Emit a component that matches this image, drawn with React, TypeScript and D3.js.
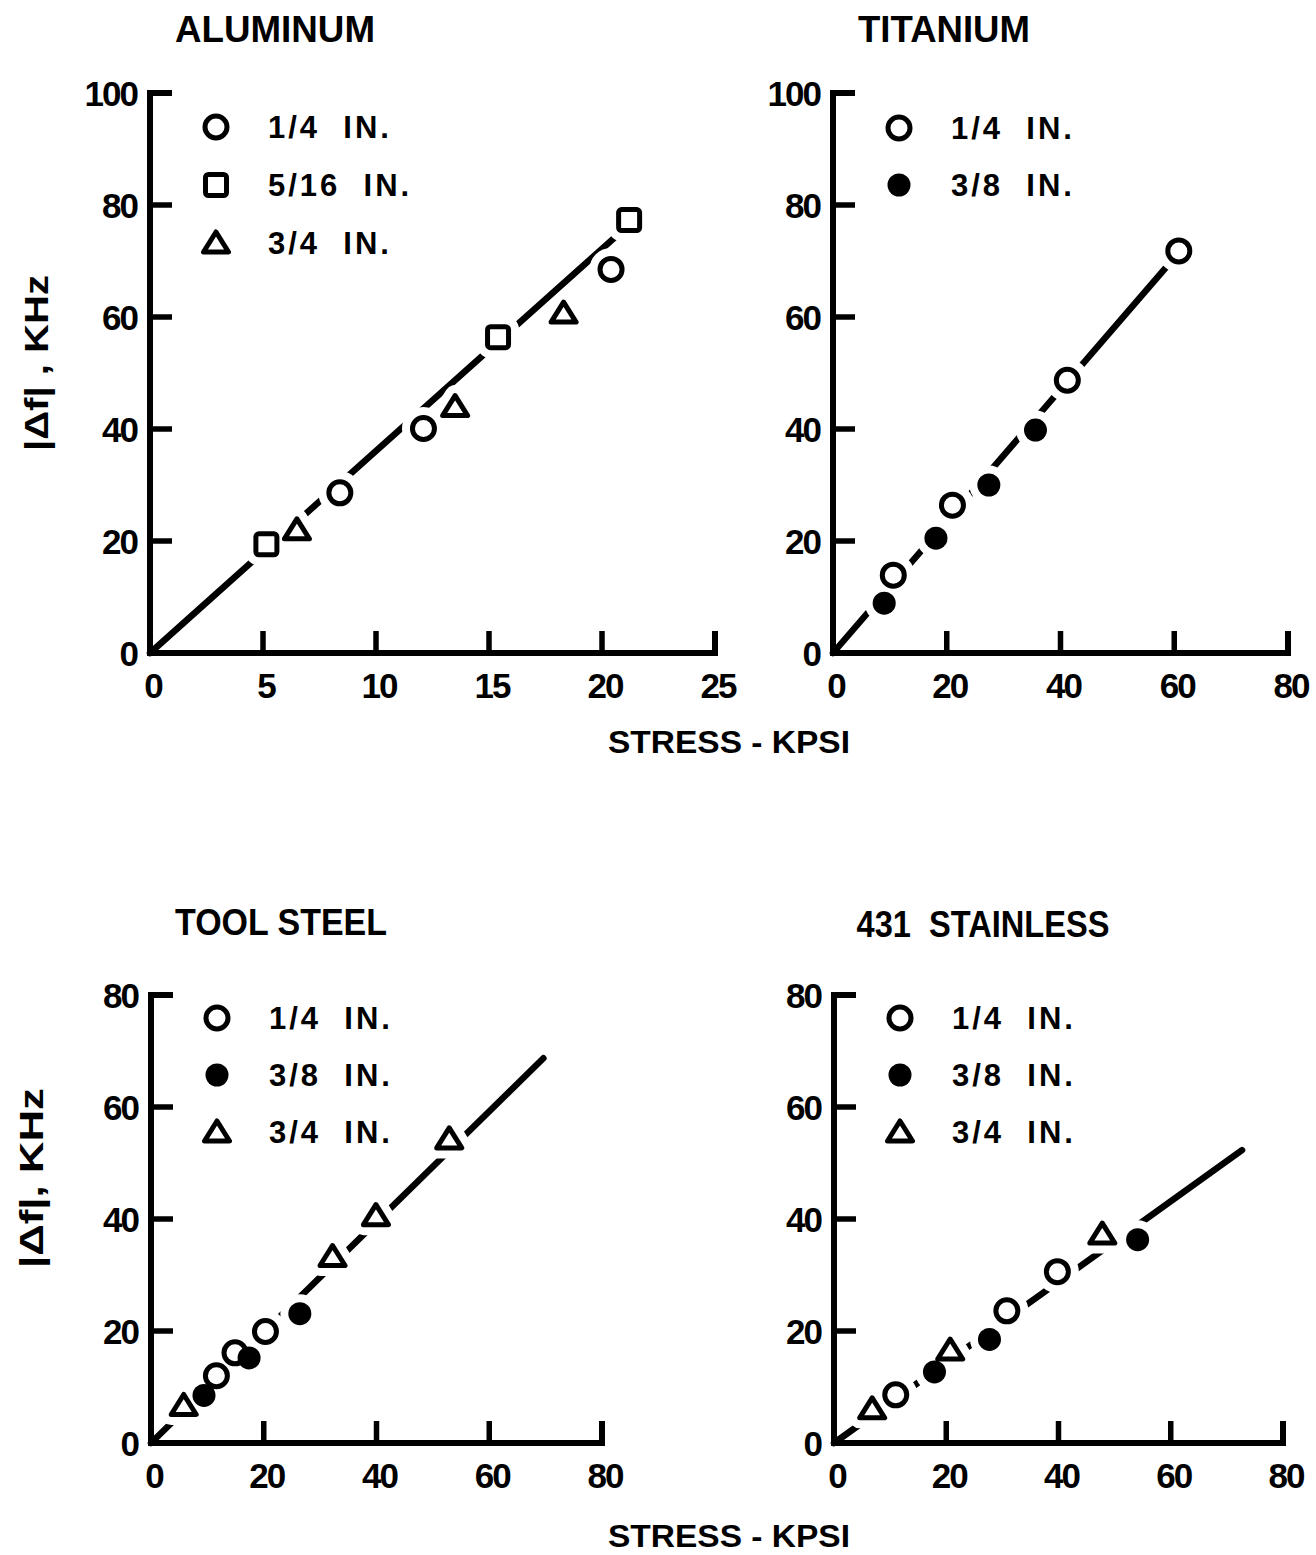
import React from 'react';
import * as d3 from 'd3';

type Pt = [number, number];
type Shape = 'circle' | 'disc' | 'square' | 'triangle';

// ---- ALUMINUM (stress kpsi, |Δf| kHz) ----
const alQuarterIn: Pt[] = [[8.4, 28.6], [12.1, 40.1], [20.4, 68.5]];
const alFiveSixteenthIn: Pt[] = [[5.15, 19.4], [15.4, 56.4], [21.2, 77.3]];
const alThreeQuarterIn: Pt[] = [[6.5, 22.0], [13.5, 44.0], [18.3, 60.7]];
const alFit: Pt[] = [[0, 0], [21.2, 76.5]];

// ---- TITANIUM ----
const tiQuarterIn: Pt[] = [[10.6, 13.9], [21.0, 26.4], [41.2, 48.7], [60.8, 71.8]];
const tiThreeEighthIn: Pt[] = [[9.0, 8.9], [18.1, 20.5], [27.4, 30.0], [35.6, 39.8]];
const tiFit: Pt[] = [[0, 0], [60.8, 71.5]];

// ---- TOOL STEEL ----
const tsQuarterIn: Pt[] = [[11.6, 12.0], [14.9, 16.1], [20.3, 19.9]];
const tsThreeEighthIn: Pt[] = [[9.4, 8.5], [17.4, 15.2], [26.4, 23.1]];
const tsThreeQuarterIn: Pt[] = [[5.8, 6.7], [32.2, 33.3], [39.9, 40.6], [52.9, 54.3]];
const tsFit: Pt[] = [[0, 0], [69.6, 68.7]];

// ---- 431 STAINLESS ----
const ssQuarterIn: Pt[] = [[11.0, 8.6], [30.8, 23.6], [39.8, 30.6]];
const ssThreeEighthIn: Pt[] = [[17.9, 12.7], [27.7, 18.5], [54.1, 36.3]];
const ssThreeQuarterIn: Pt[] = [[6.8, 6.1], [20.7, 16.6], [47.8, 37.3]];
const ssFit: Pt[] = [[0, 0], [72.7, 52.3]];

// ---- ticks ----
const alStressTicks = [0, 5, 10, 15, 20, 25];
const stressTicks80 = [0, 20, 40, 60, 80];
const freqTicks100 = [0, 20, 40, 60, 80, 100];
const freqTicks80 = [0, 20, 40, 60, 80];

const FONT = "'Liberation Sans', Arial, sans-serif";

interface Series { label: string; shape: Shape; data: Pt[] }
interface Panel {
  title: string;
  titleX: number; titleY: number; titleLen: number;
  x0: number; x1: number; yTop: number; yBottom: number;
  xDomain: [number, number]; yDomain: [number, number];
  xTicks: number[]; yTicks: number[];
  series: Series[]; fit: Pt[];
  legendTop: number; legendStep: number;
}

const panels: Panel[] = [
  {
    title: 'ALUMINUM', titleX: 275, titleY: 42, titleLen: 200,
    x0: 150, x1: 715, yTop: 93, yBottom: 653,
    xDomain: [0, 25], yDomain: [0, 100], xTicks: alStressTicks, yTicks: freqTicks100,
    series: [
      { label: '1/4  IN.', shape: 'circle', data: alQuarterIn },
      { label: '5/16  IN.', shape: 'square', data: alFiveSixteenthIn },
      { label: '3/4  IN.', shape: 'triangle', data: alThreeQuarterIn },
    ],
    fit: alFit, legendTop: 127, legendStep: 58,
  },
  {
    title: 'TITANIUM', titleX: 944, titleY: 42, titleLen: 172,
    x0: 833, x1: 1288, yTop: 93, yBottom: 653,
    xDomain: [0, 80], yDomain: [0, 100], xTicks: stressTicks80, yTicks: freqTicks100,
    series: [
      { label: '1/4  IN.', shape: 'circle', data: tiQuarterIn },
      { label: '3/8  IN.', shape: 'disc', data: tiThreeEighthIn },
    ],
    fit: tiFit, legendTop: 128, legendStep: 57,
  },
  {
    title: 'TOOL STEEL', titleX: 281, titleY: 935, titleLen: 212,
    x0: 151, x1: 602, yTop: 995, yBottom: 1443,
    xDomain: [0, 80], yDomain: [0, 80], xTicks: stressTicks80, yTicks: freqTicks80,
    series: [
      { label: '1/4  IN.', shape: 'circle', data: tsQuarterIn },
      { label: '3/8  IN.', shape: 'disc', data: tsThreeEighthIn },
      { label: '3/4  IN.', shape: 'triangle', data: tsThreeQuarterIn },
    ],
    fit: tsFit, legendTop: 1018, legendStep: 57,
  },
  {
    title: '431  STAINLESS', titleX: 983, titleY: 937, titleLen: 253,
    x0: 834, x1: 1283, yTop: 995, yBottom: 1443,
    xDomain: [0, 80], yDomain: [0, 80], xTicks: stressTicks80, yTicks: freqTicks80,
    series: [
      { label: '1/4  IN.', shape: 'circle', data: ssQuarterIn },
      { label: '3/8  IN.', shape: 'disc', data: ssThreeEighthIn },
      { label: '3/4  IN.', shape: 'triangle', data: ssThreeQuarterIn },
    ],
    fit: ssFit, legendTop: 1018, legendStep: 57,
  },
];

const MARK_SW = 5;
const HALO = 8;

function Marker({ shape, x, y, halo }: { shape: Shape; x: number; y: number; halo?: boolean }) {
  const stroke = halo ? '#fff' : '#000';
  const sw = halo ? MARK_SW + HALO * 2 : MARK_SW;
  if (shape === 'circle') {
    return <circle cx={x} cy={y} r={11} fill="#fff" stroke={stroke} strokeWidth={sw} />;
  }
  if (shape === 'disc') {
    return halo
      ? <circle cx={x} cy={y} r={11.5 + HALO} fill="#fff" />
      : <circle cx={x} cy={y} r={11.5} fill="#000" />;
  }
  if (shape === 'square') {
    return (
      <rect x={x - 10.5} y={y - 10.5} width={21} height={21} rx={3}
        fill="#fff" stroke={stroke} strokeWidth={sw} strokeLinejoin="round" />
    );
  }
  const d = `M${x},${y - 11}L${x + 12.5},${y + 9}L${x - 12.5},${y + 9}Z`;
  return <path d={d} fill="#fff" stroke={stroke} strokeWidth={sw} strokeLinejoin="round" />;
}

function PanelView({ p }: { p: Panel }) {
  const xs = d3.scaleLinear().domain(p.xDomain).range([p.x0, p.x1]);
  const ys = d3.scaleLinear().domain(p.yDomain).range([p.yBottom, p.yTop]);
  const line = d3.line<Pt>().x(d => xs(d[0])).y(d => ys(d[1]));
  const tickLen = 22;
  const axisPath =
    `M${p.x0 + tickLen},${ys(p.yDomain[1])}H${p.x0}V${p.yBottom}H${p.x1}V${p.yBottom - tickLen}`;
  const innerX = p.xTicks.filter(t => t > p.xDomain[0] && t < p.xDomain[1]);
  const innerY = p.yTicks.filter(t => t > p.yDomain[0] && t < p.yDomain[1]);

  return (
    <g>
      <text x={p.titleX} y={p.titleY} textAnchor="middle" fontSize={36} fontWeight={700}
        textLength={p.titleLen} lengthAdjust="spacingAndGlyphs" style={{ whiteSpace: 'pre' }}>
        {p.title}
      </text>

      {/* axes */}
      <path d={axisPath} fill="none" stroke="#000" strokeWidth={6} strokeLinejoin="miter" />
      {innerY.map(t => (
        <line key={'yt' + t} x1={p.x0} x2={p.x0 + tickLen} y1={ys(t)} y2={ys(t)}
          stroke="#000" strokeWidth={5.5} />
      ))}
      {innerX.map(t => (
        <line key={'xt' + t} x1={xs(t)} x2={xs(t)} y1={p.yBottom} y2={p.yBottom - tickLen}
          stroke="#000" strokeWidth={5.5} />
      ))}
      {p.yTicks.map(t => (
        <text key={'yl' + t} x={p.x0 - 13} y={ys(t) + 12.5} textAnchor="end" fontSize={35}
          fontWeight={700} letterSpacing={-2}>{t}</text>
      ))}
      {p.xTicks.map(t => (
        <text key={'xl' + t} x={xs(t) + 3} y={p.yBottom + 45} textAnchor="middle" fontSize={35}
          fontWeight={700} letterSpacing={-2}>{t}</text>
      ))}

      {/* fitted line, broken around the plotted points */}
      <path d={line(p.fit) || ''} fill="none" stroke="#000" strokeWidth={6.5} strokeLinecap="round" />
      {p.series.map(s => s.data.map((d, i) => (
        <Marker key={s.label + 'h' + i} shape={s.shape} x={xs(d[0])} y={ys(d[1])} halo />
      )))}
      {p.series.map(s => s.data.map((d, i) => (
        <Marker key={s.label + 'm' + i} shape={s.shape} x={xs(d[0])} y={ys(d[1])} />
      )))}

      {/* legend */}
      {p.series.map((s, i) => {
        const ly = p.legendTop + i * p.legendStep;
        return (
          <g key={'lg' + i}>
            <Marker shape={s.shape} x={p.x0 + 66} y={ly} />
            <text x={p.x0 + 118} y={ly + 11} fontSize={31} fontWeight={700} letterSpacing={3}
              style={{ whiteSpace: 'pre' }}>
              {s.label}
            </text>
          </g>
        );
      })}
    </g>
  );
}

export default function App() {
  return (
    <svg width={1316} height={1555} viewBox="0 0 1316 1555"
      style={{ position: 'absolute', left: 0, top: 0, background: '#fff' }}
      fontFamily={FONT} fill="#000">
      <rect x={0} y={0} width={1316} height={1555} fill="#fff" />
      {panels.map(p => <PanelView key={p.title} p={p} />)}

      <text x={729} y={753} textAnchor="middle" fontSize={32} fontWeight={700}
        textLength={242} lengthAdjust="spacingAndGlyphs">STRESS - KPSI</text>
      <text x={729} y={1547} textAnchor="middle" fontSize={32} fontWeight={700}
        textLength={242} lengthAdjust="spacingAndGlyphs">STRESS - KPSI</text>

      <text transform="translate(48,363) rotate(-90)" textAnchor="middle" fontSize={34}
        fontWeight={700} textLength={176} lengthAdjust="spacingAndGlyphs"
        style={{ whiteSpace: 'pre' }}>{'|Δf| , KHz'}</text>
      <text transform="translate(43,1178) rotate(-90)" textAnchor="middle" fontSize={34}
        fontWeight={700} textLength={180} lengthAdjust="spacingAndGlyphs">{'|Δf|, KHz'}</text>
    </svg>
  );
}
